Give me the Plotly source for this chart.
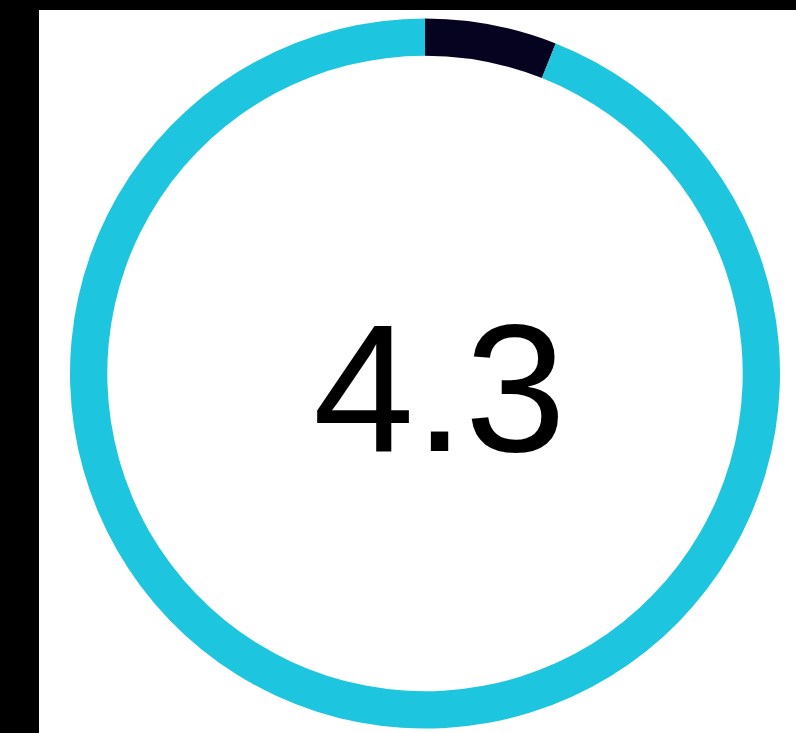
import plotly.graph_objects as go

W, H = 796, 733

labels = ["Score", "Remaining"]
values = [0.3, 4.7]
colors = ["#050320", "#1EC5DE"]
center_label = "4.3"

cx, cy, r = 425, 373.5, 355  # pixel geometry

fig = go.Figure(go.Pie(
    labels=labels,
    values=values,
    hole=0.895,
    sort=False,
    direction="clockwise",
    rotation=0,
    marker=dict(colors=colors, line=dict(width=0)),
    textinfo="none",
    showlegend=False,
    domain=dict(x=[(cx - r) / W, (cx + r) / W],
                y=[(H - cy - r) / H, (H - cy + r) / H]),
))

fig.add_shape(type="rect", xref="paper", yref="paper",
              x0=39 / W, x1=1, y0=0, y1=1 - 10 / H,
              fillcolor="white", line=dict(width=0), layer="below")

fig.add_annotation(text=center_label, xref="paper", yref="paper",
                   x=439 / W, y=1 - 388 / H, xanchor="center", yanchor="middle",
                   showarrow=False,
                   font=dict(family="Liberation Sans, Arial", size=182, color="black"))

fig.update_layout(width=W, height=H, margin=dict(l=0, r=0, t=0, b=0),
                  paper_bgcolor="black")

fig.write_html("out.html",
               config={"displayModeBar": False},
               post_script="document.body.style.margin='0';document.body.style.background='black';")
